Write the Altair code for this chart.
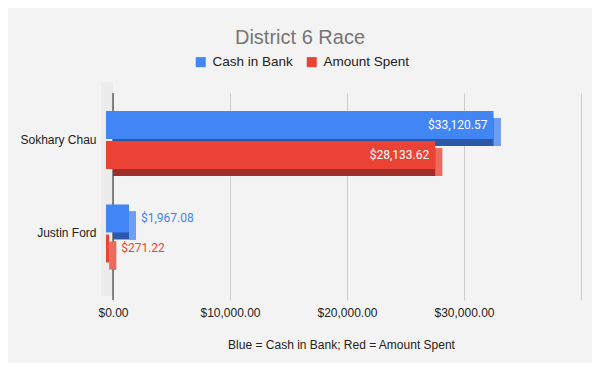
import altair as alt
import pandas as pd

categories = ["Sokhary Chau", "Justin Ford"]
series_names = ["Cash in Bank", "Amount Spent"]
cash_in_bank = [33120.57, 1967.08]
amount_spent = [28133.62, 271.22]
x_ticks = [0, 10000, 20000, 30000, 40000]

rows = []
for i, c in enumerate(categories):
    rows.append({"Candidate": c, "Series": series_names[0], "Value": cash_in_bank[i]})
    rows.append({"Candidate": c, "Series": series_names[1], "Value": amount_spent[i]})
df = pd.DataFrame(rows)

front_col = {"Cash in Bank": "#4285F4", "Amount Spent": "#EA4335"}
dark_col = {"Cash in Bank": "#2C58A7", "Amount Spent": "#9E2E27"}
side_col = {"Cash in Bank": "#6C9EF6", "Amount Spent": "#EE6A5F"}
offsets = {"Cash in Bank": -15, "Amount Spent": 15}

FONT = "Liberation Sans"
DEPTH = 7
BAR_H = 28

xscale = alt.Scale(domain=[0, 40000], nice=False)
yscale = alt.Scale(paddingInner=0.3, paddingOuter=0.257, align=0.297)

xaxis = alt.Axis(
    values=x_ticks,
    labelExpr="datum.value >= 40000 ? '' : format(datum.value, '$,.2f')",
    labelFlush=False, labelAlign="center",
    grid=True, gridColor="#cccccc", gridWidth=1,
    domain=False, ticks=False,
    labelFont=FONT, labelFontSize=12, labelColor="#222222", labelPadding=7,
    title="Blue = Cash in Bank; Red = Amount Spent",
    titleFont=FONT, titleFontSize=12, titleFontWeight="normal", titleColor="#222222",
    titleX=228, titleY=44, titleBaseline="middle", titleAlign="center",
)
yaxis = alt.Axis(
    title=None, domain=False, ticks=False, grid=False,
    labelFont=FONT, labelFontSize=12, labelColor="#222222", labelPadding=17,
)

X = alt.X("Value:Q", scale=xscale, axis=xaxis)
Y = alt.Y("Candidate:N", sort=categories, scale=yscale, axis=yaxis)

wall = alt.Chart(pd.DataFrame({"w": [0]})).mark_rect(color="#ececec").encode(
    x=alt.value(-12), x2=alt.value(0), y=alt.value(-11), y2=alt.value(203)
)
zero_rule = alt.Chart(pd.DataFrame({"z": [0]})).mark_rule(color="#222222", strokeWidth=1).encode(
    x=alt.X("z:Q", scale=xscale, axis=xaxis)
)

layers = [wall, zero_rule]
for s in series_names:
    off = offsets[s]
    base = alt.Chart(df).transform_filter(alt.datum.Series == s)
    dark = base.mark_bar(height=BAR_H, yOffset=off + DEPTH, color=dark_col[s]).encode(x=X, y=Y)
    side = base.mark_bar(height=BAR_H, yOffset=off + DEPTH, xOffset=-DEPTH, x2Offset=0,
                         color=side_col[s]).encode(x=X, x2="Value:Q", y=Y)
    front = base.mark_bar(height=BAR_H, yOffset=off, xOffset=-DEPTH, x2Offset=-DEPTH).encode(
        x=X, y=Y,
        color=alt.Color(
            "Series:N",
            scale=alt.Scale(domain=series_names, range=[front_col[n] for n in series_names]),
            legend=alt.Legend(
                title=None, orient="none", legendX=81, legendY=-38, direction="horizontal",
                symbolType="square", symbolSize=100, symbolStrokeWidth=0,
                labelFont=FONT, labelFontSize=13.5, labelColor="#222222",
                labelOffset=5, columnPadding=12,
            ),
        ),
    )
    inside = base.transform_filter("datum.Value > 5000").mark_text(
        align="right", baseline="middle", dx=-13, yOffset=off, color="white",
        font="Roboto", fontSize=12,
    ).encode(x=X, y=Y, text=alt.Text("Value:Q", format="$,.2f"))
    outside = base.transform_filter("datum.Value <= 5000").mark_text(
        align="left", baseline="middle", dx=5, yOffset=off, color=front_col[s],
        font="Roboto", fontSize=12,
    ).encode(x=X, y=Y, text=alt.Text("Value:Q", format="$,.2f"))
    layers += [dark, side, front, inside, outside]

chart = alt.layer(*layers).properties(
    width=468,
    height=207,
    autosize=alt.AutoSizeParams(type="none"),
    padding={"left": 105, "top": 85, "right": 11, "bottom": 63},
    title=alt.TitleParams(
        "District 6 Race", font=FONT, fontSize=20, fontWeight="normal",
        color="#757575", anchor="middle", dx=-47, offset=7,
    ),
).configure(background="#f3f3f3").configure_view(stroke=None)

chart.save("out.html", embed_options={"renderer": "svg", "actions": False})
